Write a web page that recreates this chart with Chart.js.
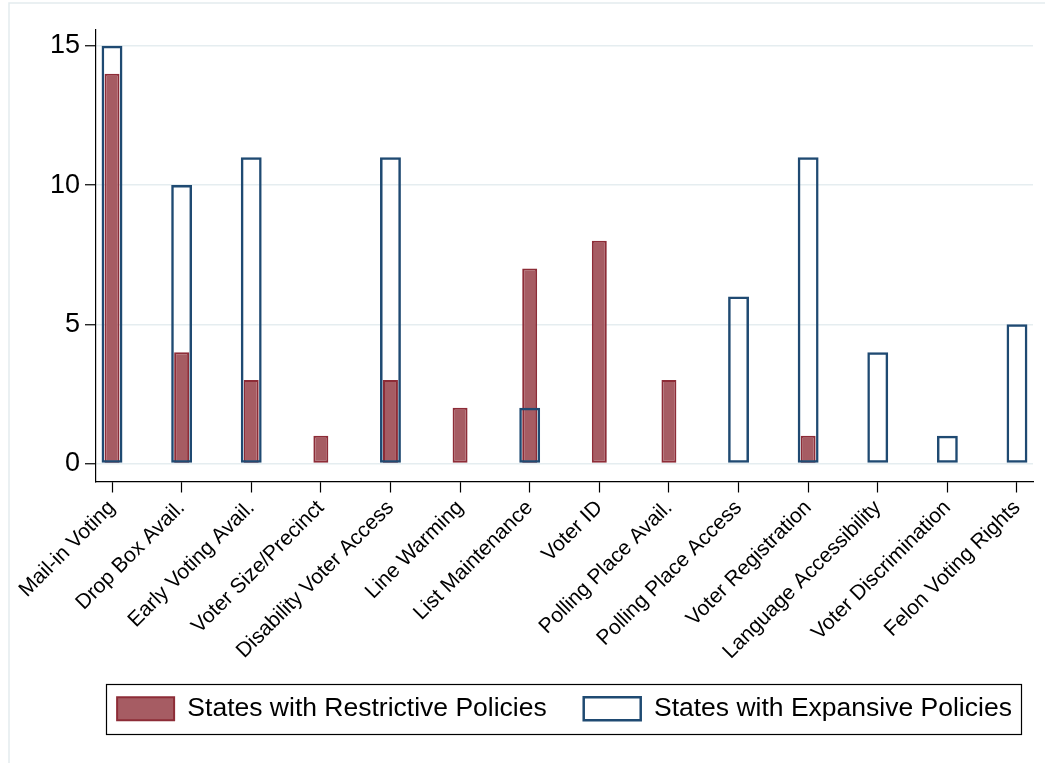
<!DOCTYPE html>
<html>
<head>
<meta charset="utf-8">
<script src="https://cdn.jsdelivr.net/npm/chart.js@4"></script>
<style>
  html, body { margin: 0; padding: 0; background: #ffffff; }
  #wrap { width: 1045px; height: 763px; }
</style>
</head>
<body>
<div id="wrap"><canvas id="c" width="1045" height="763"></canvas></div>
<script>
// Policy categories along the x axis
const categories = [
  'Mail-in Voting', 'Drop Box Avail.', 'Early Voting Avail.', 'Voter Size/Precinct',
  'Disability Voter Access', 'Line Warming', 'List Maintenance', 'Voter ID',
  'Polling Place Avail.', 'Polling Place Access', 'Voter Registration',
  'Language Accessibility', 'Voter Discrimination', 'Felon Voting Rights'
];
// Number of states per category
const restrictive = [14, 4, 3, 1, 3, 2, 7, 8, 3, 0, 1, 0, 0, 0];
const expansive   = [15, 10, 11, 0, 11, 0, 2, 0, 0, 6, 11, 4, 1, 5];
const yTicks = [0, 5, 10, 15];
const seriesNames = ['States with Restrictive Policies', 'States with Expansive Policies'];

const FONT = '"Liberation Sans", Arial, sans-serif';
const GRID = '#e5edf0';

const toPoints = arr => arr.map((v, i) => ({ x: i, y: v }));

const decor = {
  id: 'decor',
  beforeDraw(chart) {
    const ctx = chart.ctx;
    ctx.save();
    ctx.strokeStyle = '#e3ebee';
    ctx.lineWidth = 1.5;
    ctx.strokeRect(9, 3, chart.width + 40, chart.height + 40);
    ctx.restore();
  },
  afterLayout(chart) {
    // center the legend row under the plot area (symmetric span around it)
    const lg = chart.legend;
    lg.left = chart.chartArea.left - 80;
    lg.right = chart.chartArea.right + 80;
  },
  afterDraw(chart) {
    const hb = chart.legend.legendHitBoxes;
    if (!hb || !hb.length) return;
    const first = hb[0], last = hb[hb.length - 1];
    const l = first.left - 11, r = last.left + last.width + 9;
    const t = first.top - 12, b = first.top + first.height + 11;
    const ctx = chart.ctx;
    ctx.save();
    ctx.strokeStyle = '#000';
    ctx.lineWidth = 1.2;
    ctx.strokeRect(Math.round(l) + 0.5, Math.round(t) + 0.5, Math.round(r - l), Math.round(b - t));
    ctx.restore();
  }
};

new Chart(document.getElementById('c'), {
  type: 'bar',
  data: {
    datasets: [
      {
        label: seriesNames[0],
        data: toPoints(restrictive),
        backgroundColor: '#a65c63',
        borderColor: '#8d2c37',
        borderWidth: 2,
        borderSkipped: false,
        grouped: false,
        barPercentage: 0.215,
        categoryPercentage: 1,
        order: 1
      },
      {
        label: seriesNames[1],
        data: toPoints(expansive),
        backgroundColor: 'rgba(255,255,255,0)',
        borderColor: '#1f4a72',
        borderWidth: 2.5,
        borderSkipped: false,
        grouped: false,
        barPercentage: 0.30,
        categoryPercentage: 1,
        order: 0
      }
    ]
  },
  options: {
    responsive: false,
    animation: false,
    layout: { padding: { top: 30, right: 12, bottom: 31, left: 0 } },
    plugins: {
      tooltip: { enabled: false },
      title: { display: false },
      legend: {
        position: 'bottom',
        align: 'center',
        labels: {
          sort: (a, b) => a.datasetIndex - b.datasetIndex,
          boxWidth: 57,
          boxHeight: 23,
          padding: 37,
          color: '#000',
          font: { family: FONT, size: 26.5 }
        }
      }
    },
    scales: {
      x: {
        type: 'linear',
        min: -0.23,
        max: 13.23,
        offset: false,
        afterBuildTicks: s => { s.ticks = categories.map((_, i) => ({ value: i })); },
        afterFit: s => { s.height = 177; },
        grid: {
          offset: false,
          drawOnChartArea: false,
          drawTicks: true,
          tickLength: 11,
          tickColor: '#000',
          tickWidth: 1.2
        },
        border: { display: true, color: '#000', width: 1.2 },
        ticks: {
          autoSkip: false,
          maxRotation: 45,
          minRotation: 45,
          padding: 3,
          color: '#000',
          font: { family: FONT, size: 21 },
          callback: v => categories[v]
        }
      },
      y: {
        type: 'linear',
        min: -0.646,
        max: 15.57,
        afterBuildTicks: s => { s.ticks = yTicks.map(v => ({ value: v })); },
        afterFit: s => { s.width = 96; },
        grid: {
          color: GRID,
          lineWidth: 1.5,
          drawTicks: true,
          tickLength: 11,
          tickColor: '#000',
          tickWidth: 1.2
        },
        border: { display: true, color: '#000', width: 1.2 },
        ticks: {
          padding: 5,
          color: '#000',
          font: { family: FONT, size: 27 },
          callback: v => String(v)
        }
      }
    }
  },
  plugins: [decor]
});
</script>
</body>
</html>
